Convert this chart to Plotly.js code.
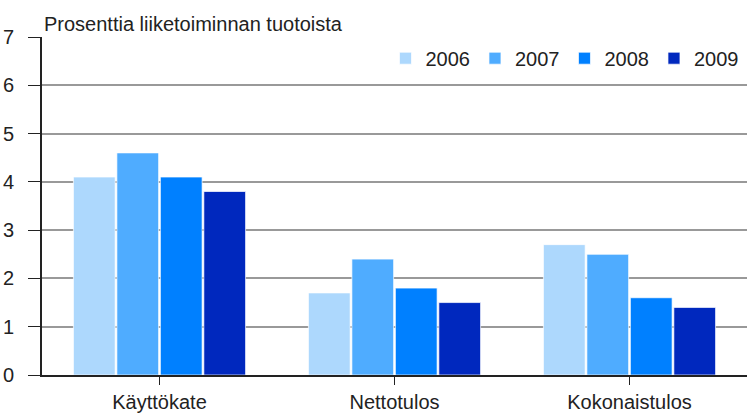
<!DOCTYPE html>
<html>
<head>
<meta charset="utf-8">
<script src="https://cdn.plot.ly/plotly-3.0.1.min.js"></script>
<style>
  html, body { margin: 0; padding: 0; background: #fff; }
  #chart { width: 747px; height: 414px; }
</style>
</head>
<body>
<div id="chart"></div>
<script>
const categories = ['Käyttökate', 'Nettotulos', 'Kokonaistulos'];
const years = ['2006', '2007', '2008', '2009'];
const values2006 = [4.1, 1.7, 2.7];
const values2007 = [4.6, 2.4, 2.5];
const values2008 = [4.1, 1.8, 1.6];
const values2009 = [3.8, 1.5, 1.4];
const colors = ['#ADD8FD', '#4FACFF', '#0080FF', '#0028BE'];
const yTicks = [0, 1, 2, 3, 4, 5, 6, 7];

const series = [values2006, values2007, values2008, values2009];

const data = series.map((vals, i) => ({
  type: 'bar',
  name: years[i],
  x: categories,
  y: vals,
  marker: { color: colors[i], line: { color: 'rgba(255,255,255,0.7)', width: 1 } },
}));

const layout = {
  width: 747,
  height: 414,
  margin: { l: 42, r: 0, t: 37, b: 39 },
  paper_bgcolor: '#fff',
  plot_bgcolor: '#fff',
  font: { family: 'Liberation Sans, Arial, sans-serif', size: 20, color: '#222' },
  barmode: 'group',
  bargap: 0.26,
  bargroupgap: 0.04,
  showlegend: true,
  legend: {
    orientation: 'h',
    x: 0.995,
    xanchor: 'right',
    y: 0.995,
    yanchor: 'top',
    font: { size: 20, color: '#222' },
    itemwidth: 30,
    bgcolor: 'rgba(0,0,0,0)',
  },
  xaxis: {
    type: 'category',
    showline: true,
    linecolor: '#222',
    linewidth: 2,
    ticks: 'outside',
    ticklen: 8,
    tickcolor: '#222',
    showgrid: false,
    tickfont: { size: 20 },
  },
  yaxis: {
    range: [0, 7],
    tickvals: yTicks,
    showline: true,
    linecolor: '#222',
    linewidth: 2,
    ticks: 'outside',
    ticklen: 12,
    tickcolor: '#222',
    ticklabelstandoff: 10,
    gridcolor: '#999',
    gridwidth: 2,
    zeroline: false,
    tickfont: { size: 20 },
  },
  annotations: [{
    text: 'Prosenttia liiketoiminnan tuotoista',
    xref: 'paper',
    yref: 'paper',
    x: 0,
    y: 1,
    xanchor: 'left',
    yanchor: 'bottom',
    yshift: 0,
    showarrow: false,
    font: { size: 20, color: '#222' },
  }],
};

Plotly.newPlot('chart', data, layout, { displayModeBar: false, responsive: false });
</script>
</body>
</html>
